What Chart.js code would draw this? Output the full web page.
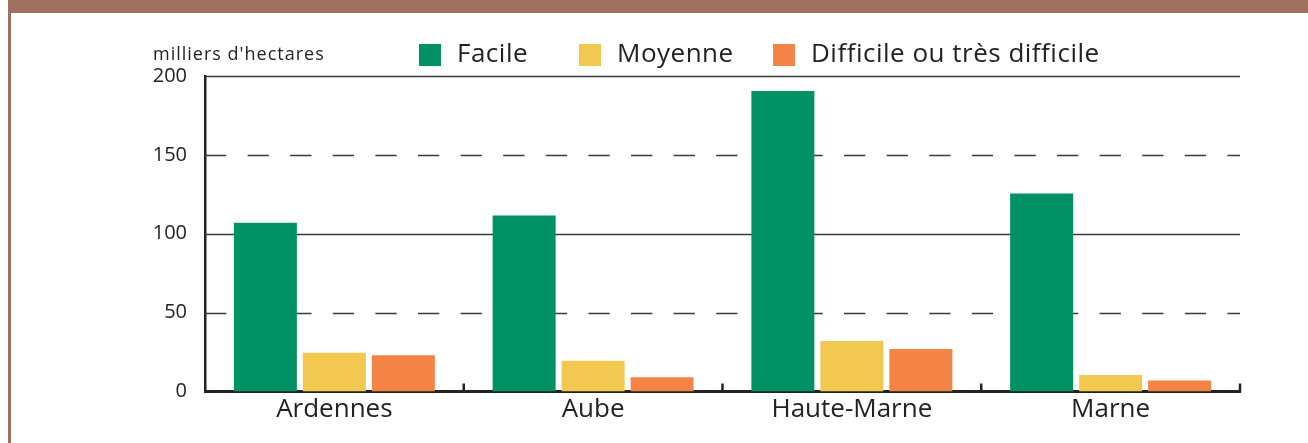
<!DOCTYPE html>
<html>
<head>
<meta charset="utf-8">
<script src="https://cdn.jsdelivr.net/npm/chart.js@4/dist/chart.umd.min.js"></script>
<style>
    html, body { margin: 0; padding: 0; background: #fff; }
    #wrap { position: relative; width: 1308px; height: 443px; overflow: hidden; }
    #band { position: absolute; left: 8px; top: 0; width: 1300px; height: 13px; background: #a0705f; }
    #edge { position: absolute; left: 8px; top: 0; width: 3px; height: 443px; background: #a0705f; }
    canvas { position: absolute; left: 0; top: 0; }
</style>
</head>
<body>
<div id="wrap">
    <div id="band"></div>
    <div id="edge"></div>
    <canvas id="chart" width="1308" height="443"></canvas>
</div>
<script>
// Data
const departements = ['Ardennes', 'Aube', 'Haute-Marne', 'Marne'];
const facile = [107, 111.5, 190.5, 125.5];
const moyenne = [24.5, 19.5, 32, 10.5];
const difficile = [23, 9, 27, 7];
const yTicks = [0, 50, 100, 150, 200];
const dashedTicks = [50, 150];
const unitLabel = "milliers d'hectares";

const FONT = '"Open Sans", sans-serif';
const INK = '#222';
const DASH = 21.3;

// Grid lines under the bars: solid or dashed depending on the tick
const gridPlugin = {
    id: 'gridLines',
    beforeDatasetsDraw(chart) {
        const { ctx, chartArea } = chart;
        const y = chart.scales.y;
        ctx.save();
        ctx.strokeStyle = '#3a3a3a';
        ctx.lineWidth = 1.3;
        yTicks.forEach(v => {
            if (v === 0) return;
            const py = Math.round(y.getPixelForValue(v)) + 0.5;
            ctx.beginPath();
            if (dashedTicks.includes(v)) {
                // dashes starting right at the axis
                for (let x0 = chartArea.left; x0 < chartArea.right; x0 += DASH * 2) {
                    ctx.moveTo(x0, py);
                    ctx.lineTo(Math.min(x0 + DASH, chartArea.right), py);
                }
            } else {
                ctx.moveTo(chartArea.left, py);
                ctx.lineTo(chartArea.right, py);
            }
            ctx.stroke();
        });
        ctx.restore();
    }
};

// Upward ticks between categories, unit label and legend
const decorPlugin = {
    id: 'decor',
    afterDraw(chart) {
        const { ctx, chartArea } = chart;
        const x = chart.scales.x;
        ctx.save();
        // category separators
        const half = (x.getPixelForTick(1) - x.getPixelForTick(0)) / 2;
        ctx.strokeStyle = INK;
        ctx.lineWidth = 2.5;
        for (let i = 1; i <= departements.length; i++) {
            const px = x.getPixelForTick(i - 1) + half;
            ctx.beginPath();
            ctx.moveTo(px, chartArea.bottom + 1);
            ctx.lineTo(px, chartArea.bottom - 8);
            ctx.stroke();
        }
        // unit
        ctx.fillStyle = INK;
        ctx.font = '18px ' + FONT;
        ctx.letterSpacing = '1px';
        ctx.textBaseline = 'alphabetic';
        ctx.textAlign = 'left';
        ctx.fillText(unitLabel, 153, 60);
        // legend
        const boxX = [419, 579, 773];
        ctx.font = '26px ' + FONT;
        ctx.letterSpacing = '0.5px';
        ctx.textBaseline = 'middle';
        chart.data.datasets.forEach((ds, i) => {
            ctx.fillStyle = ds.backgroundColor;
            ctx.fillRect(boxX[i], 44, 22, 22);
            ctx.fillStyle = INK;
            ctx.fillText(ds.label, boxX[i] + 38, 55);
        });
        ctx.restore();
    }
};

new Chart(document.getElementById('chart'), {
    type: 'bar',
    data: {
        labels: departements,
        datasets: [
            { label: 'Facile', data: facile, backgroundColor: '#009265' },
            { label: 'Moyenne', data: moyenne, backgroundColor: '#f3c851' },
            { label: 'Difficile ou très difficile', data: difficile, backgroundColor: '#f48446' }
        ]
    },
    options: {
        responsive: false,
        animation: false,
        events: [],
        categoryPercentage: 0.8,
        barPercentage: 0.913,
        layout: { padding: { top: 76, right: 68, left: 0, bottom: 0 } },
        plugins: { legend: { display: false }, tooltip: { enabled: false } },
        scales: {
            x: {
                offset: true,
                grid: { display: false, drawTicks: false },
                border: { display: true, color: INK, width: 3 },
                ticks: { color: INK, font: { family: FONT, size: 26 }, padding: 2 },
                afterFit(scale) { scale.height = 51.5; }
            },
            y: {
                min: 0,
                max: 200,
                afterBuildTicks(scale) { scale.ticks = yTicks.map(v => ({ value: v })); },
                grid: { display: false, drawTicks: false },
                border: { display: true, color: INK, width: 2.5 },
                ticks: { color: INK, font: { family: FONT, size: 20 }, padding: 18 },
                afterFit(scale) { scale.width = 205; }
            }
        }
    },
    plugins: [gridPlugin, decorPlugin]
});
</script>
</body>
</html>
